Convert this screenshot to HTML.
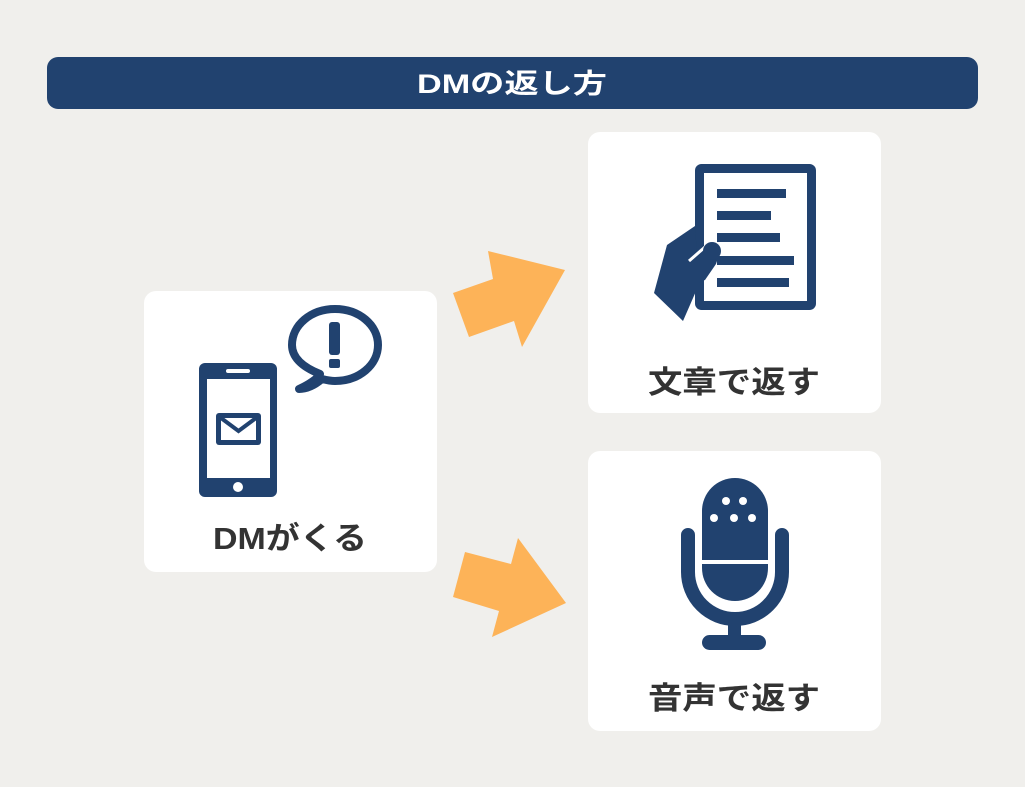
<!DOCTYPE html>
<html><head><meta charset="utf-8"><style>
html,body{margin:0;padding:0;background:#f0efec;}
svg{display:block}
text{font-family:"Liberation Sans","Noto Sans CJK JP",sans-serif;font-weight:bold;}
</style></head><body>
<svg width="1025" height="787" viewBox="0 0 1025 787" xmlns="http://www.w3.org/2000/svg">
<rect width="1025" height="787" fill="#f0efec"/>
<rect x="47" y="57" width="931" height="52" rx="11" fill="#21426f"/>
<text x="512" y="93" font-size="27" fill="#fff" text-anchor="middle" textLength="190" lengthAdjust="spacingAndGlyphs">DMの返し方</text>

<rect x="144" y="291" width="293" height="281" rx="12" fill="#fff"/>
<rect x="588" y="132" width="293" height="281" rx="12" fill="#fff"/>
<rect x="588" y="451" width="293" height="280" rx="12" fill="#fff"/>

<polygon points="453,293 493,279 488,251 565,270 522,347 514,321 469,337" fill="#fdb358"/>
<polygon points="465,552 511,564 518,538 566,603 492,637 499,611 453,597" fill="#fdb358"/>

<rect x="199" y="363" width="78" height="134" rx="6" fill="#21426f"/>
<rect x="207" y="379" width="63" height="99" fill="#fff"/>
<rect x="226" y="369" width="24" height="4" rx="2" fill="#fff"/>
<circle cx="238" cy="487" r="5" fill="#fff"/>
<rect x="216" y="413" width="45" height="32" rx="3" fill="#21426f"/>
<rect x="221" y="418" width="35" height="22" fill="#fff"/>
<polyline points="221,418 238.5,431 256,418" fill="none" stroke="#21426f" stroke-width="4"/>
<path d="M299,389 C310,384 318,378 320,374 C300,366 292,356 292,345 C292,325 311,309 335,309 C359,309 378,325 378,345 C378,365 359,381 335,381 C330,381 326,380 322,379 C315,385 307,389 299,389 Z" fill="none" stroke="#21426f" stroke-width="8" stroke-linejoin="round"/>
<rect x="329" y="322" width="11" height="33" rx="3" fill="#21426f"/>
<rect x="329" y="359" width="11" height="9" rx="2" fill="#21426f"/>
<text x="290" y="549" font-size="31" fill="#333" text-anchor="middle" textLength="154" lengthAdjust="spacingAndGlyphs">DMがくる</text>

<rect x="699.5" y="168.5" width="112" height="137" rx="2" fill="#fff" stroke="#21426f" stroke-width="9"/>
<rect x="717" y="189" width="69" height="9" fill="#21426f"/>
<rect x="717" y="211" width="54" height="9" fill="#21426f"/>
<rect x="717" y="233" width="63" height="9" fill="#21426f"/>
<rect x="717" y="256" width="77" height="9" fill="#21426f"/>
<rect x="717" y="278" width="72" height="9" fill="#21426f"/>
<polygon points="654,293 667,245 695,226 697,255 690,260 708,245 720,252 716,264 705,280 700,282 683,321" fill="#21426f"/>
<line x1="689" y1="261" x2="705" y2="247" stroke="#fff" stroke-width="3"/>
<circle cx="712" cy="251" r="9" fill="#21426f"/>
<text x="734" y="393" font-size="31" fill="#333" text-anchor="middle" textLength="172" lengthAdjust="spacingAndGlyphs">文章で返す</text>

<path d="M702,511 A33,33 0 0 1 768,511 L768,560 L702,560 Z" fill="#21426f"/>
<path d="M702,564 L768,564 L768,568 A33,33 0 0 1 702,568 Z" fill="#21426f"/>
<path d="M688,535 L688,572 A46,46 0 0 0 782,572 L782,535" fill="none" stroke="#21426f" stroke-width="14" stroke-linecap="round"/>
<rect x="728" y="612" width="13" height="28" fill="#21426f"/>
<rect x="702" y="635" width="64" height="15" rx="7.5" fill="#21426f"/>
<g fill="#fff">
<circle cx="726" cy="501" r="4"/><circle cx="743" cy="501" r="4"/>
<circle cx="714" cy="518" r="4"/><circle cx="734" cy="518" r="4"/><circle cx="752" cy="518" r="4"/>
</g>
<text x="734" y="709" font-size="31" fill="#333" text-anchor="middle" textLength="172" lengthAdjust="spacingAndGlyphs">音声で返す</text>
</svg>
</body></html>
